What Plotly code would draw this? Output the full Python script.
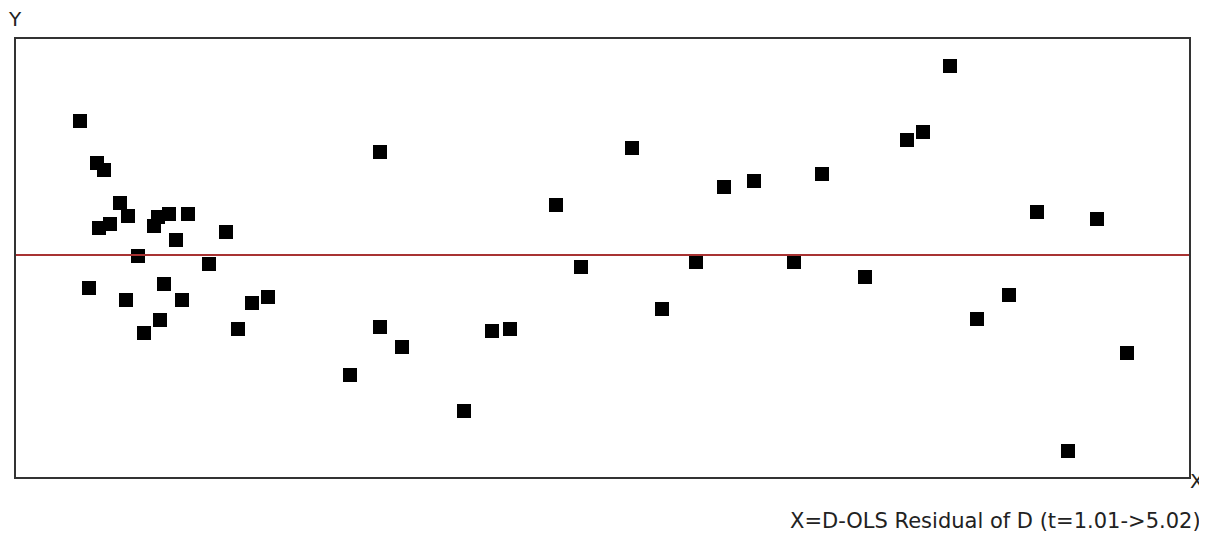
import plotly.graph_objects as go

# Residual scatter values (arbitrary units; y relative to zero line)
x_vals = [65, 82, 89, 105, 113, 84, 95, 139, 143, 154, 173, 161, 211, 123, 194, 74, 149, 111, 167,
          237, 253, 145, 129, 223,
          335, 365, 365, 387, 449, 477, 495, 541, 566, 617, 647, 681, 709, 739, 779, 807, 850,
          892, 908, 935, 962, 994, 1022, 1053, 1082, 1112]
y_vals = [134, 92, 85, 52, 39, 27, 31, 29, 38, 41, 41, 15, 23, -1, -9, -33, -29, -45, -45,
          -48, -42, -65, -78, -74,
          -120, 103, -72, -92, -156, -76, -74, 50, -12, 107, -54, -7, 68, 74, -7, 81, -22,
          115, 123, 189, -64, -40, 43, -196, 36, -98]

x_range = [0, 1175]
y_range = [-223, 217]
zero_line = 0

axis_title = "X=D-OLS Residual of D (t=1.01->5.02)"
y_label = "Y"
x_label = "X"

fig = go.Figure()
fig.add_trace(go.Scatter(
    x=x_vals, y=y_vals, mode="markers",
    marker=dict(symbol="square", size=14, color="black", line=dict(width=0)),
    showlegend=False, hoverinfo="skip",
))

fig.add_shape(type="line", xref="x", yref="y", x0=x_range[0], x1=x_range[1],
              y0=zero_line, y1=zero_line, line=dict(color="#a83232", width=2))
fig.add_shape(type="rect", xref="paper", yref="paper", x0=0, x1=1, y0=0, y1=1,
              line=dict(color="#333333", width=2))

font = dict(family="DejaVu Sans", size=20, color="#222222")
fig.add_annotation(text=y_label, xref="paper", yref="paper", x=0, y=1, xanchor="center",
                   yanchor="bottom", yshift=5, showarrow=False, font=font)
fig.add_annotation(text=x_label, xref="paper", yref="paper", x=1, y=0, xanchor="center",
                   yanchor="middle", xshift=7, yshift=-3, showarrow=False, font=font)
fig.add_annotation(text=axis_title, xref="paper", yref="paper", x=1, y=0, xanchor="right",
                   yanchor="top", xshift=13, yshift=-29,
                   showarrow=False, font=dict(family="DejaVu Sans", size=21, color="#222222"))

fig.update_xaxes(range=x_range, visible=False)
fig.update_yaxes(range=y_range, visible=False)
fig.update_layout(
    width=1199, height=527,
    margin=dict(l=7, r=17, t=30, b=57),
    plot_bgcolor="white", paper_bgcolor="white",
)

fig.write_html("out.html")
